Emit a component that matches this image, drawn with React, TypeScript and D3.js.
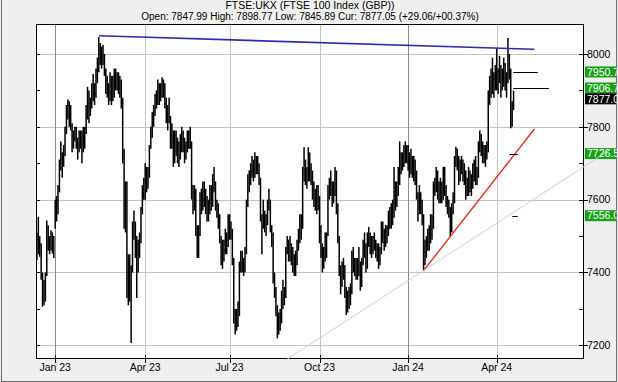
import React from 'react';
import * as d3 from 'd3';

const W = 618;
const H = 382;

const TITLE = 'FTSE:UKX (FTSE 100 Index (GBP))';
const QUOTE = 'Open: 7847.99 High: 7898.77 Low: 7845.89 Cur: 7877.05 (+29.06/+00.37%)';

const startDate = '2022-12-12';
const endDate = '2024-04-18';
const holidays = [
  '2022-12-26', '2022-12-27', '2023-01-02', '2023-04-07', '2023-04-10', '2023-05-01',
  '2023-05-08', '2023-05-29', '2023-08-28', '2023-12-25', '2023-12-26', '2024-01-01',
  '2024-03-29', '2024-04-01',
];

// daily [low, high], one per trading day from startDate to endDate
const dailyRanges: [number, number][] = [
  // Dec 2022
  [7434, 7510], [7450, 7553], [7443, 7500], [7380, 7480], [7306, 7400], [7310, 7380], [7320, 7400],
  [7390, 7543], [7460, 7530], [7450, 7500], [7460, 7516], [7452, 7510], [7440, 7500],
  // Jan 2023
  [7520, 7600], [7540, 7610], [7560, 7640], [7620, 7710], [7680, 7760], [7660, 7730], [7690, 7750],
  [7720, 7800], [7780, 7860], [7820, 7875], [7800, 7870], [7790, 7860], [7730, 7810], [7740, 7790],
  [7760, 7800], [7740, 7800], [7710, 7770], [7730, 7790], [7740, 7790], [7700, 7790], [7730, 7800],
  // Feb 2023
  [7740, 7800], [7780, 7860], [7820, 7910], [7810, 7900], [7830, 7880], [7850, 7920], [7870, 7945],
  [7860, 7920], [7880, 7960], [7920, 7990], [7950, 8047], [7970, 8030], [7960, 8020], [7970, 8025],
  [7940, 8000], [7890, 7960], [7880, 7940], [7860, 7920], [7870, 7950], [7860, 7940],
  // Mar 2023
  [7870, 7940], [7880, 7960], [7900, 7960], [7900, 7950], [7890, 7950], [7880, 7940], [7850, 7930],
  [7700, 7880], [7520, 7740], [7510, 7650], [7330, 7650], [7310, 7450], [7320, 7450], [7206, 7420],
  [7400, 7540], [7490, 7570], [7440, 7540], [7330, 7500], [7400, 7490], [7440, 7510], [7480, 7580],
  [7560, 7640], [7600, 7660],
  // Apr 2023
  [7600, 7700], [7620, 7690], [7630, 7690], [7660, 7750], [7740, 7800], [7770, 7840], [7800, 7860],
  [7830, 7890], [7850, 7900], [7860, 7930], [7860, 7920], [7870, 7920], [7880, 7936], [7880, 7930],
  [7850, 7920], [7810, 7880], [7790, 7860], [7810, 7880],
  // May 2023
  [7740, 7830], [7740, 7810], [7690, 7790], [7700, 7790], [7720, 7790], [7700, 7770], [7690, 7760],
  [7710, 7780], [7730, 7800], [7730, 7790], [7700, 7770], [7710, 7760], [7730, 7790], [7740, 7790],
  [7740, 7800], [7600, 7760], [7560, 7640], [7570, 7640], [7500, 7630], [7440, 7530],
  // Jun 2023
  [7440, 7530], [7500, 7620], [7560, 7630], [7570, 7650], [7580, 7650], [7560, 7630], [7540, 7610],
  [7540, 7600], [7560, 7640], [7570, 7640], [7580, 7670], [7620, 7690], [7570, 7650], [7550, 7600],
  [7520, 7590], [7480, 7560], [7420, 7500], [7410, 7490], [7430, 7490], [7450, 7520], [7450, 7510],
  [7470, 7560],
  // Jul 2023
  [7490, 7560], [7490, 7540], [7420, 7520], [7260, 7440], [7230, 7300], [7240, 7300], [7250, 7320],
  [7280, 7430], [7400, 7460], [7400, 7460], [7390, 7440], [7400, 7470], [7450, 7600], [7580, 7670],
  [7620, 7680], [7640, 7700], [7660, 7720], [7650, 7710], [7660, 7730], [7670, 7720], [7670, 7720],
  // Aug 2023
  [7640, 7700], [7540, 7660], [7450, 7560], [7520, 7600], [7510, 7570], [7500, 7560], [7530, 7600],
  [7570, 7630], [7510, 7600], [7470, 7530], [7370, 7510], [7330, 7400], [7280, 7360], [7219, 7310],
  [7230, 7290], [7240, 7300], [7260, 7350], [7300, 7380], [7310, 7360], [7330, 7470], [7450, 7500],
  [7430, 7490],
  // Sep 2023
  [7430, 7500], [7420, 7480], [7400, 7470], [7390, 7450], [7390, 7460], [7420, 7490], [7460, 7520],
  [7480, 7560], [7490, 7560], [7520, 7690], [7650, 7744], [7640, 7710], [7630, 7690], [7650, 7744],
  [7650, 7730], [7640, 7700], [7600, 7680], [7580, 7650], [7570, 7630], [7560, 7640], [7570, 7640],
  // Oct 2023
  [7480, 7610], [7440, 7530], [7400, 7480], [7410, 7470], [7430, 7510], [7440, 7510], [7500, 7640],
  [7600, 7660], [7610, 7680], [7580, 7650], [7590, 7650], [7610, 7690], [7560, 7680], [7480, 7590],
  [7390, 7500], [7340, 7420], [7360, 7430], [7380, 7440], [7330, 7420], [7283, 7360], [7290, 7350],
  [7300, 7360],
  // Nov 2023
  [7310, 7370], [7340, 7460], [7400, 7470], [7390, 7440], [7380, 7440], [7380, 7440], [7390, 7470],
  [7350, 7430], [7360, 7440], [7420, 7490], [7440, 7510], [7400, 7480], [7410, 7510], [7470, 7525],
  [7450, 7510], [7440, 7500], [7450, 7500], [7460, 7510], [7440, 7490], [7430, 7480], [7410, 7480],
  [7420, 7470],
  // Dec 2023
  [7450, 7540], [7480, 7540], [7460, 7520], [7470, 7530], [7480, 7530], [7500, 7570], [7520, 7580],
  [7520, 7590], [7530, 7600], [7550, 7690], [7570, 7650], [7580, 7650], [7610, 7690], [7640, 7760],
  [7670, 7730], [7680, 7730], [7690, 7750], [7700, 7760], [7700, 7750],
  // Jan 2024
  [7680, 7750], [7660, 7730], [7670, 7740], [7660, 7720], [7650, 7720], [7640, 7710], [7600, 7680],
  [7540, 7620], [7560, 7640], [7560, 7620], [7530, 7600], [7405, 7560], [7420, 7490], [7440, 7500],
  [7460, 7520], [7460, 7530], [7480, 7560], [7490, 7560], [7520, 7650], [7610, 7660], [7620, 7690],
  [7600, 7680],
  // Feb 2024
  [7590, 7650], [7590, 7660], [7590, 7650], [7600, 7690], [7610, 7690], [7580, 7640], [7560, 7610],
  [7550, 7600], [7498, 7580], [7510, 7590], [7560, 7620], [7590, 7720], [7690, 7745], [7680, 7740],
  [7640, 7720], [7650, 7710], [7670, 7720], [7650, 7710], [7640, 7700], [7600, 7680], [7610, 7660],
  // Mar 2024
  [7610, 7690], [7620, 7680], [7610, 7670], [7630, 7700], [7650, 7710], [7640, 7720], [7640, 7690],
  [7660, 7760], [7730, 7790], [7720, 7780], [7700, 7760], [7700, 7750], [7690, 7750], [7710, 7760],
  [7730, 7900], [7860, 7940], [7880, 7960], [7890, 7990], [7880, 7950], [7900, 7970],
  // Apr 2024
  [7900, 8016], [7890, 7960], [7920, 7995], [7880, 7970], [7900, 7960], [7910, 7990], [7900, 7975],
  [7880, 7950], [7920, 8044], [7930, 8000], [7796, 7960], [7800, 7870], [7846, 7899],
];

const yTicks = [7200, 7400, 7600, 7800, 8000];
const yMinorTicks = [7300, 7500, 7700, 7900];
const xTickMonths = ['2023-01', '2023-04', '2023-07', '2023-10', '2024-01', '2024-04'];
const xTickLabels = ['Jan 23', 'Apr 23', 'Jul 23', 'Oct 23', 'Jan 24', 'Apr 24'];
const yearStartMonths = ['2023-01', '2024-01'];

// trend lines in (trading-day index from first Jan 23 session, price)
const trendX0 = [31.2, 262, 165];
const trendV0 = [8050, 7405, 7162];
const trendX1 = [340.8, 340.8, 395];
const trendV1 = [8013, 7794, 7738];
const trendColors = ['#2c2cb0', '#e2231a', '#d2cfc8'];

// target markers
const targetLevels = [7950.7, 7906.7, 7726.5, 7556.0];
const targetX0 = [325.8, 325.8, 323, 325.1];
const targetX1 = [343.2, 351.2, 329, 329];

const priceLabels = ['7950.7', '7906.7', '7877.0', '7726.5', '7556.0'];
const priceLabelColors = ['#16a016', '#16a016', '#000000', '#16a016', '#16a016'];

const FONT = '"Liberation Sans", Arial, Helvetica, sans-serif';

export default function App() {
  const holidaySet = new Set(holidays);
  const fmt = d3.utcFormat('%Y-%m-%d');
  const fmtM = d3.utcFormat('%Y-%m');
  const days = d3
    .utcDays(new Date(startDate + 'T00:00Z'), d3.utcDay.offset(new Date(endDate + 'T00:00Z'), 1))
    .filter((d) => d.getUTCDay() !== 0 && d.getUTCDay() !== 6 && !holidaySet.has(fmt(d)));
  const n = Math.min(days.length, dailyRanges.length);
  const base = days.findIndex((d) => fmtM(d) === xTickMonths[0]);

  const left = 36;
  const right = 584;
  const top = 24;
  const bottom = 359;

  const x = d3.scaleLinear().domain([-13.66, 376.1]).range([left, right]);
  const y = d3.scaleLinear().domain([7162.4, 8082.4]).range([bottom, top]);

  const tickIdx = xTickMonths.map((m) => days.findIndex((d) => fmtM(d) === m) - base);

  const bars = d3.range(n).map((i) => {
    const xi = x(i - base);
    const [lo, hi] = dailyRanges[i];
    return { xi, y0: y(hi), y1: y(lo) };
  });

  const line = d3.line<[number, number]>().x((d) => x(d[0])).y((d) => y(d[1]));

  return (
    <div style={{ position: 'fixed', left: 0, top: 0 }}>
      <svg width={W} height={H} style={{ display: 'block', fontFamily: FONT }}>
        <rect x={0} y={0} width={W} height={H} fill="#efefef" />
        <rect x={1.5} y={-20} width={615} height={401.5} fill="none" stroke="#6e6e6e" strokeWidth={1} />
        <text x={310} y={8.5} textAnchor="middle" fontSize={10.5} fill="#000">{TITLE}</text>
        <text x={310} y={19.5} textAnchor="middle" fontSize={10} fill="#000">{QUOTE}</text>

        <rect x={left} y={top} width={right - left} height={bottom - top} fill="#ffffff" />
        {yTicks.map((t) => (
          <line key={'gy' + t} x1={left} x2={right} y1={Math.round(y(t)) + 0.5} y2={Math.round(y(t)) + 0.5}
            stroke="#c4c4c4" strokeWidth={1} />
        ))}
        {tickIdx.map((t, i) => (
          <line key={'gx' + i} x1={Math.round(x(t)) + 0.5} x2={Math.round(x(t)) + 0.5} y1={top} y2={bottom}
            stroke={yearStartMonths.includes(xTickMonths[i]) ? '#8a8a8a' : '#c4c4c4'} strokeWidth={1} />
        ))}

        <g>
          {bars.map((b, i) => (
            <line key={'b' + i} x1={b.xi} x2={b.xi} y1={b.y0} y2={b.y1} stroke="#000" strokeWidth={1.5} />
          ))}
        </g>

        {[0, 1].map((k) => (
          <path key={'tl' + k}
            d={line([[trendX0[k], trendV0[k]], [trendX1[k], trendV1[k]]]) || ''}
            stroke={trendColors[k]} strokeWidth={k === 0 ? 1.6 : 1.3} fill="none" />
        ))}

        {targetLevels.map((v, i) => (
          <line key={'tg' + i} x1={x(targetX0[i])} x2={x(targetX1[i])}
            y1={Math.round(y(v)) + 0.5} y2={Math.round(y(v)) + 0.5} stroke="#000" strokeWidth={1} />
        ))}

        <rect x={left + 0.5} y={top + 0.5} width={right - left - 1} height={bottom - top - 1}
          fill="none" stroke="#000" strokeWidth={1} />

        {d3.range(7200, 8001, 100).map((t) => (
          <line key={'lt' + t} x1={left} x2={left + 4} y1={Math.round(y(t)) + 0.5} y2={Math.round(y(t)) + 0.5}
            stroke="#000" strokeWidth={1} />
        ))}
        {yMinorTicks.map((t) => (
          <line key={'rm' + t} x1={right - 5} x2={right} y1={Math.round(y(t)) + 0.5} y2={Math.round(y(t)) + 0.5}
            stroke="#000" strokeWidth={1} />
        ))}
        {yTicks.map((t) => (
          <g key={'ry' + t}>
            <line x1={right - 5} x2={right + 4} y1={Math.round(y(t)) + 0.5} y2={Math.round(y(t)) + 0.5}
              stroke="#000" strokeWidth={1} />
            <text x={right + 3} y={y(t)} dy="0.36em" fontSize={10.5} fill="#000">{t}</text>
          </g>
        ))}
        {tickIdx.map((t, i) => (
          <g key={'xt' + i}>
            <line x1={Math.round(x(t)) + 0.5} x2={Math.round(x(t)) + 0.5} y1={bottom - 4} y2={bottom + 4}
              stroke="#000" strokeWidth={1} />
            <text x={x(t)} y={371} textAnchor="middle" fontSize={10.5} fill="#000">{xTickLabels[i]}</text>
          </g>
        ))}

        {priceLabels.map((s, i) => (
          <g key={'pl' + i}>
            <rect x={right + 1} y={y(+s) - 5.5} width={W - right - 3} height={11} fill={priceLabelColors[i]} />
            <text x={right + 3} y={y(+s)} dy="0.36em" fontSize={10.5} fill="#fff">{s}</text>
          </g>
        ))}

        <path d={line([[trendX0[2], trendV0[2]], [trendX1[2], trendV1[2]]]) || ''}
          stroke={trendColors[2]} strokeWidth={1} fill="none" />
      </svg>
    </div>
  );
}
